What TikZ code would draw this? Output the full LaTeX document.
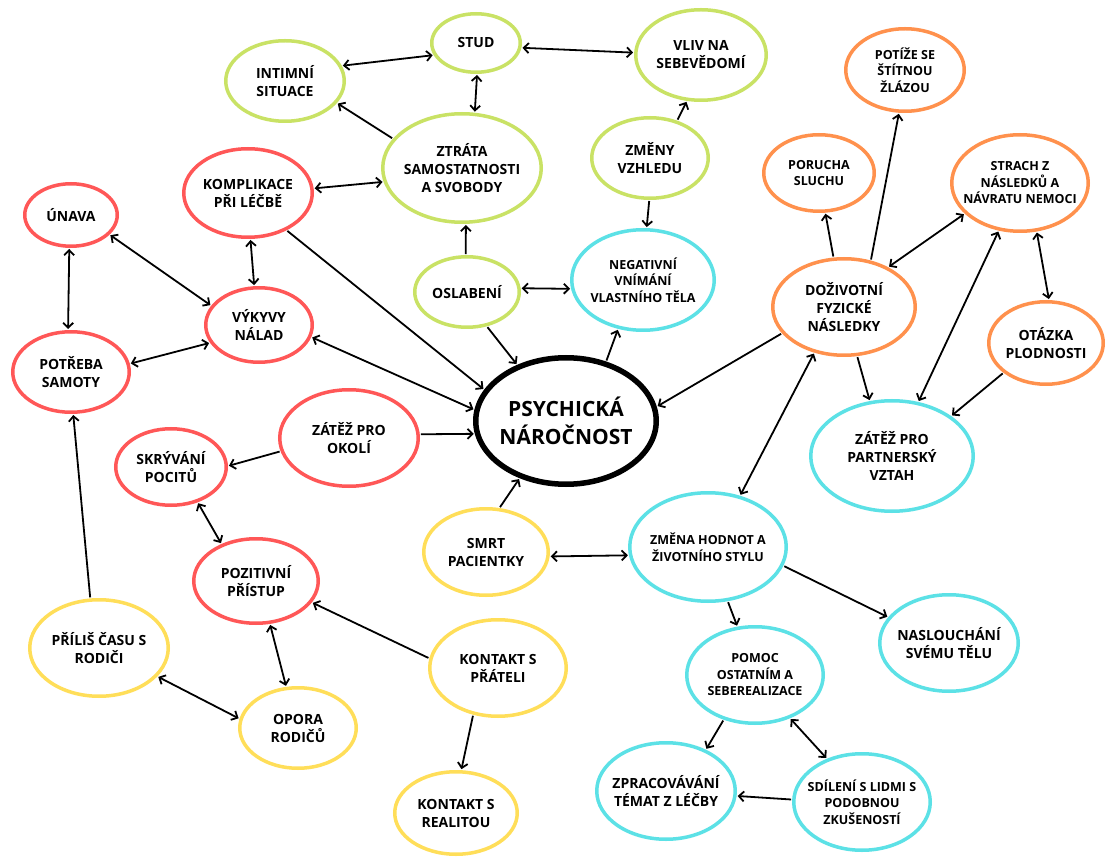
\documentclass[tikz,border=0pt]{standalone}
\usepackage{fontspec}
\setmainfont{Open Sans}
\usetikzlibrary{shapes.geometric,arrows.meta}
\definecolor{cgreen}{HTML}{C9E265}
\definecolor{cred}{HTML}{FF5757}
\definecolor{ccyan}{HTML}{5CE1E6}
\definecolor{corange}{HTML}{FF914D}
\definecolor{cyellow}{HTML}{FFDE59}
\tikzset{
  el/.style={ellipse, draw, line width=3.5pt, inner sep=-15pt, align=center,
    font=\bfseries\fontsize{14}{18}\selectfont},
  sm/.style={font=\bfseries\fontsize{12.5}{16.5}\selectfont},
  gn/.style={draw=cgreen}, rd/.style={draw=cred}, cy/.style={draw=ccyan},
  orng/.style={draw=corange}, yl/.style={draw=cyellow},
  ar/.style={line width=1.8pt, -{Straight Barb[length=5pt,width=10pt]}, shorten >=1pt, shorten <=1pt},
  dar/.style={line width=1.8pt, {Straight Barb[length=5pt,width=10pt]}-{Straight Barb[length=5pt,width=10pt]}, shorten >=1pt, shorten <=1pt}
}
\begin{document}
\begin{tikzpicture}[x=1pt,y=-1pt]
\useasboundingbox (0,0) rectangle (1106,858);
\fill[white] (0,0) rectangle (1106,858);
% green
\node[el, minimum width=88.5, minimum height=58.5, gn] (stud) at (476,43) {STUD};
\node[el, minimum width=118.5, minimum height=80.5, gn] (intim) at (285,81) {INTIMNÍ\\SITUACE};
\node[el, minimum width=130.5, minimum height=90.5, gn] (vliv) at (701,55) {VLIV NA\\SEBEVĚDOMÍ};
\node[el, minimum width=158.5, minimum height=108.5, gn] (ztrata) at (462,168) {ZTRÁTA\\SAMOSTATNOSTI\\A SVOBODY};
\node[el, minimum width=116.5, minimum height=80.5, gn] (zmeny) at (650,158) {ZMĚNY\\VZHLEDU};
\node[el, minimum width=104.5, minimum height=70.5, gn] (oslab) at (467,292) {OSLABENÍ};
% red
\node[el, minimum width=128.5, minimum height=88.5, rd] (kompl) at (248,193) {KOMPLIKACE\\PŘI LÉČBĚ};
\node[el, minimum width=92.5, minimum height=62.5, rd] (unava) at (71,215) {ÚNAVA};
\node[el, minimum width=106.5, minimum height=74.5, rd] (vykyvy) at (259,325) {VÝKYVY\\NÁLAD};
\node[el, minimum width=116.5, minimum height=80.5, rd] (potreba) at (71,372) {POTŘEBA\\SAMOTY};
\node[el, minimum width=138.5, minimum height=96.5, rd] (okoli) at (349,438) {ZÁTĚŽ PRO\\OKOLÍ};
\node[el, minimum width=110.5, minimum height=76.5, rd] (skryv) at (171,467) {SKRÝVÁNÍ\\POCITŮ};
\node[el, minimum width=124.5, minimum height=84.5, rd] (pozit) at (256,581) {POZITIVNÍ\\PŘÍSTUP};
% center
\node[el, minimum width=180.5, minimum height=126.5, draw=black, line width=5.5pt,
  font=\bfseries\fontsize{21}{28}\selectfont] (psych) at (566,421) {PSYCHICKÁ\\NÁROČNOST};
% orange
\node[el, minimum width=142.5, minimum height=96.5, orng] (doziv) at (844,307) {DOŽIVOTNÍ\\FYZICKÉ\\NÁSLEDKY};
\node[el, minimum width=110.5, minimum height=76.5, orng, sm] (porucha) at (819,173) {PORUCHA\\SLUCHU};
\node[el, minimum width=118.5, minimum height=82.5, orng, sm] (potize) at (905,70) {POTÍŽE SE\\ŠTÍTNOU\\ŽLÁZOU};
\node[el, minimum width=136.5, minimum height=96.5, orng, sm] (strach) at (1020,183) {STRACH Z\\NÁSLEDKŮ A\\NÁVRATU NEMOCI};
\node[el, minimum width=114.5, minimum height=82.5, orng] (otazka) at (1046,343) {OTÁZKA\\PLODNOSTI};
% cyan
\node[el, minimum width=142.5, minimum height=100.5, cy, sm] (negat) at (643,280) {NEGATIVNÍ\\VNÍMÁNÍ\\VLASTNÍHO TĚLA};
\node[el, minimum width=162.5, minimum height=110.5, cy] (partner) at (892,456) {ZÁTĚŽ PRO\\PARTNERSKÝ\\VZTAH};
\node[el, minimum width=156.5, minimum height=108.5, cy, sm] (zmena) at (708,547) {ZMĚNA HODNOT A\\ŽIVOTNÍHO STYLU};
\node[el, minimum width=138.5, minimum height=96.5, cy] (nasl) at (949,643) {NASLOUCHÁNÍ\\SVÉMU TĚLU};
\node[el, minimum width=136.5, minimum height=96.5, cy, sm] (pomoc) at (755,675) {POMOC\\OSTATNÍM A\\SEBEREALIZACE};
\node[el, minimum width=138.5, minimum height=96.5, cy] (zprac) at (666,791) {ZPRACOVÁVÁNÍ\\TÉMAT Z LÉČBY};
\node[el, minimum width=136.5, minimum height=96.5, cy, sm] (sdil) at (862,802) {SDÍLENÍ S LIDMI S\\PODOBNOU\\ZKUŠENOSTÍ};
% yellow
\node[el, minimum width=124.5, minimum height=86.5, yl] (smrt) at (486,552) {SMRT\\PACIENTKY};
\node[el, minimum width=138.5, minimum height=96.5, yl] (prilis) at (99,648) {PŘÍLIŠ ČASU S\\RODIČI};
\node[el, minimum width=136.5, minimum height=96.5, yl] (kontaktp) at (498,668) {KONTAKT S\\PŘÁTELI};
\node[el, minimum width=116.5, minimum height=80.5, yl] (opora) at (298,728) {OPORA\\RODIČŮ};
\node[el, minimum width=122.5, minimum height=82.5, yl] (realita) at (456,813) {KONTAKT S\\REALITOU};
% connectors
\draw[dar] (intim.15) -- (stud.196);
\draw[ar] (ztrata.157) -- (intim.-23);
\draw[dar] (stud.-88) -- (ztrata.77);
\draw[dar] (kompl.4) -- (ztrata.190);
\draw[ar] (oslab.92) -- (ztrata.-86);
\draw[dar] (kompl.-87) -- (vykyvy.97);
\draw[dar] (unava.-27) -- (vykyvy.158);
\draw[dar] (unava.-93) -- (potreba.94);
\draw[dar] (potreba.8) -- (vykyvy.200);
\draw[dar] (vykyvy.-13) -- (psych.173);
\draw[ar] (kompl.-44) -- (psych.159);
\draw[ar] (oslab.-60) -- (psych.131);
\draw[dar] (oslab.4) -- (negat.187);
\draw[ar] (psych.56) -- (negat.-117);
\draw[ar] (okoli.3) -- (psych.188);
\draw[dar] (stud.-6) -- (vliv.178);
\draw[ar] (zmeny.54) -- (vliv.-107);
\draw[ar] (zmeny.-91) -- (negat.86);
\draw[ar] (doziv.102) -- (porucha.-81);
\draw[ar] (doziv.60) -- (potize.-98);
\draw[dar] (doziv.42) -- (strach.-151);
\draw[dar] (strach.-71) -- (otazka.86);
\draw[dar] (strach.-114) -- (partner.64);
\draw[ar] (doziv.-75) -- (partner.112);
\draw[ar] (otazka.-145) -- (partner.34);
\draw[dar] (doziv.-123) -- (zmena.58);
\draw[ar] (doziv.203) -- (psych.9);
\draw[ar] (prilis.100) -- (potreba.-87);
\draw[ar] (okoli.191) -- (skryv.1);
\draw[dar] (skryv.-53) -- (pozit.133);
\draw[dar] (pozit.-72) -- (opora.106);
\draw[dar] (prilis.-26) -- (opora.171);
\draw[ar] (kontaktp.172) -- (pozit.-21);
\draw[ar] (kontaktp.-118) -- (realita.83);
\draw[ar] (smrt.73) -- (psych.-129);
\draw[dar] (smrt.-4) -- (zmena.186);
\draw[ar] (zmena.-14) -- (nasl.157);
\draw[ar] (zmena.-70) -- (pomoc.110);
\draw[ar] (pomoc.-125) -- (zprac.46);
\draw[dar] (pomoc.-51) -- (sdil.129);
\draw[ar] (sdil.178) -- (zprac.-4);
\end{tikzpicture}
\end{document}
